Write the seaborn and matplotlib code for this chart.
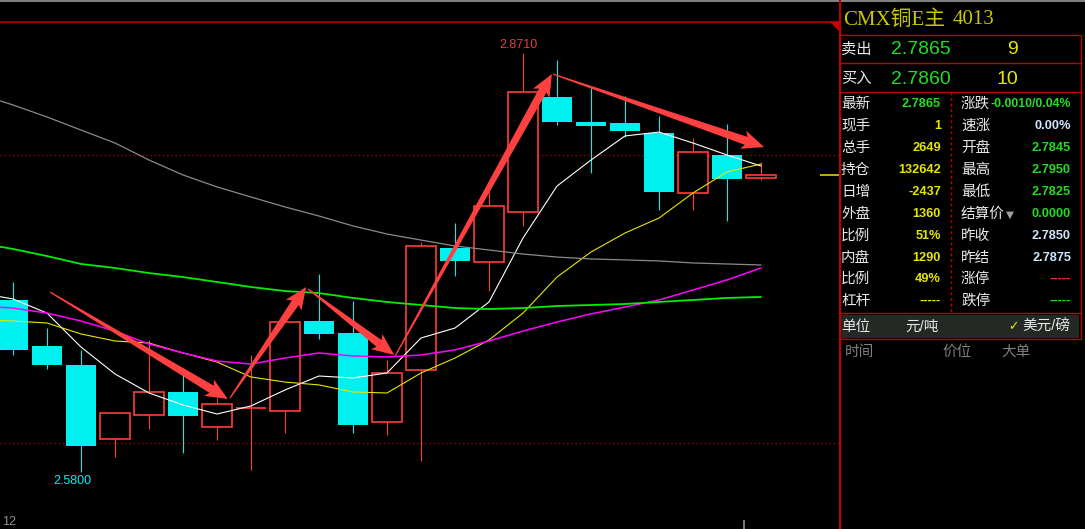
import numpy as np
import pandas as pd
import matplotlib.pyplot as plt
import seaborn as sns
from matplotlib.patches import Polygon, Rectangle
from matplotlib.transforms import IdentityTransform

sns.set_theme(style="dark", rc={"axes.facecolor": "black", "figure.facecolor": "black"})
plt.rcParams['font.family'] = ['Liberation Sans', 'Noto Sans CJK SC', 'DejaVu Sans']

W, H = 1085, 529

# ---- K线数据 (开 高 低 收) ----
opens = [2.6995, 2.6675, 2.6545, 2.6030, 2.6195, 2.6355, 2.6110, 2.6245, 2.6225, 2.6850, 2.6765, 2.6145,
         2.6510, 2.7355, 2.7260, 2.7605, 2.8405, 2.8230, 2.8225, 2.8155, 2.7735, 2.8000, 2.7845]
highs = [2.7120, 2.6800, 2.6645, 2.6215, 2.6715, 2.6520, 2.6315, 2.6610, 2.6840, 2.7175, 2.6990, 2.6580,
         2.7395, 2.7530, 2.7745, 2.8710, 2.8660, 2.8465, 2.8410, 2.8270, 2.8120, 2.8215, 2.7950]
lows = [2.6610, 2.6515, 2.5800, 2.5905, 2.6100, 2.5930, 2.6020, 2.5815, 2.6070, 2.6725, 2.6070, 2.6055,
        2.5875, 2.7160, 2.7055, 2.7510, 2.8210, 2.7875, 2.8125, 2.7620, 2.7620, 2.7545, 2.7825]
closes = [2.6645, 2.6545, 2.5980, 2.6210, 2.6355, 2.6190, 2.6270, 2.6245, 2.6840, 2.6760, 2.6125, 2.6490,
          2.7370, 2.7265, 2.7650, 2.8440, 2.8230, 2.8205, 2.8170, 2.7745, 2.8025, 2.7835, 2.7865]

# ---- 均线 (从前一根K线开始, 索引 -1 .. 22) ----
ma_idx = list(range(-1, 23))
ma5 = [2.7043, 2.7002, 2.6904, 2.6668, 2.6481, 2.6349, 2.6266, 2.6203, 2.6259, 2.6370, 2.6467, 2.6453,
       2.6488, 2.6731, 2.6800, 2.6981, 2.7425, 2.7786, 2.7967, 2.8134, 2.8161, 2.8085, 2.8002, 2.7925]
ma10 = [2.6856, 2.6849, 2.6835, 2.6759, 2.6710, 2.6696, 2.6627, 2.6564, 2.6460, 2.6425, 2.6405, 2.6356,
        2.6349, 2.6488, 2.6592, 2.6717, 2.6904, 2.7154, 2.7328, 2.7460, 2.7564, 2.7738, 2.7884, 2.7939]
ma20 = [2.6953, 2.6939, 2.6904, 2.6849, 2.6779, 2.6689, 2.6627, 2.6571, 2.6550, 2.6592, 2.6627, 2.6606,
        2.6599, 2.6613, 2.6648, 2.6710, 2.6779, 2.6842, 2.6898, 2.6946, 2.6995, 2.7064, 2.7134, 2.7217]
ma40 = [2.7391, 2.7349, 2.7300, 2.7245, 2.7217, 2.7182, 2.7154, 2.7120, 2.7085, 2.7057, 2.7043, 2.7009,
        2.6981, 2.6960, 2.6939, 2.6932, 2.6939, 2.6953, 2.6960, 2.6967, 2.6981, 2.6995, 2.7009, 2.7016]
ma60 = [2.8425, 2.8349, 2.8266, 2.8175, 2.8085, 2.7967, 2.7863, 2.7780, 2.7710, 2.7641, 2.7578, 2.7509,
        2.7453, 2.7411, 2.7370, 2.7342, 2.7314, 2.7293, 2.7280, 2.7273, 2.7266, 2.7252, 2.7245, 2.7238]

# 手绘箭头 (K线序号, 价格)
arrows = [((1.09, 2.7050), (6.32, 2.6307)),
          ((6.38, 2.6314), (8.62, 2.7085)),
          ((8.68, 2.7071), (11.21, 2.6613)),
          ((11.24, 2.6606), (15.85, 2.8564)),
          ((15.88, 2.8564), (22.09, 2.8057))]

grid_prices = [2.80, 2.60]
upper_line = 2.8925
day_split = 21.5

# ---- 右侧盘口 ----
quote_rows = [("最新", "2.7865", "g", "涨跌", "-0.0010/0.04%", "g"),
              ("现手", "1", "y", "速涨", "0.00%", "w"),
              ("总手", "2649", "y", "开盘", "2.7845", "g"),
              ("持仓", "132642", "y", "最高", "2.7950", "g"),
              ("日增", "-2437", "y", "最低", "2.7825", "g"),
              ("外盘", "1360", "y", "结算价", "0.0000", "g"),
              ("比例", "51%", "y", "昨收", "2.7850", "w"),
              ("内盘", "1290", "y", "昨结", "2.7875", "w"),
              ("比例", "49%", "y", "涨停", "-----", "r"),
              ("杠杆", "-----", "y", "跌停", "-----", "g")]
row_y = [104, 126, 148, 170, 192, 214, 236, 258, 279, 301]

RED = '#ff3c3c'
CYAN = '#00f0f0'
C = {"g": '#22dd22', "y": '#e6e600', "w": '#d0e6ff', "r": '#ff3030'}

fig = plt.figure(figsize=(W / 100, H / 100), dpi=100)
ax = fig.add_axes([0, 0, 839 / W, 1])
ax.set_facecolor('black')
ax.set_xlim(-13 / 34, (839 - 13) / 34)
ax.set_ylim(2.90781 - H / 1440, 2.90781)
ax.set_xticks([])
ax.set_yticks([])
for s in ax.spines.values():
    s.set_visible(False)

o, h, l, c = map(np.array, (opens, highs, lows, closes))
idx = np.arange(len(o))
up = c >= o
lo = np.minimum(o, c)
bh = np.abs(c - o)

ax.vlines(idx[up], l[up], h[up], color=RED, lw=0.8, zorder=2)
ax.vlines(idx[~up], l[~up], h[~up], color=CYAN, lw=0.8, zorder=2)
ax.bar(idx[up], bh[up], bottom=lo[up], width=0.88, facecolor='black', edgecolor=RED, linewidth=1.2, zorder=3)
ax.bar(idx[~up], bh[~up], bottom=lo[~up], width=0.91, color=CYAN, linewidth=0, zorder=3)

for gp in grid_prices:
    ax.axhline(gp, color='#9a0000', lw=1, ls=(0, (1, 2)), zorder=1)
ax.axhline(upper_line, color='#c80000', lw=1.1, zorder=1)

ma_df = pd.DataFrame({'idx': ma_idx * 5,
                      'val': ma5 + ma10 + ma20 + ma40 + ma60,
                      'ma': ['MA5'] * 24 + ['MA10'] * 24 + ['MA20'] * 24 + ['MA40'] * 24 + ['MA60'] * 24})
palette = {'MA5': '#ffffff', 'MA10': '#e6e600', 'MA20': '#ff00ff', 'MA40': '#00ee00', 'MA60': '#8a8a8a'}
sizes = {'MA5': 0.8, 'MA10': 0.8, 'MA20': 1.1, 'MA40': 1.3, 'MA60': 0.9}
sns.lineplot(data=ma_df, x='idx', y='val', hue='ma', palette=palette, size='ma', sizes=sizes,
             legend=False, ax=ax, zorder=4)
ax.set_xlabel('')
ax.set_ylabel('')

# 最新价标记
ax.hlines(c[-1], 23.74, 24.4, color='#e6e600', lw=1.1, zorder=4)
ax.vlines(day_split, ax.get_ylim()[0], 2.90781 - 520 / 1440, color='#909090', lw=1.2)

ih = int(np.argmax(h))
il = int(np.argmin(l))
ax.annotate(f"{h[ih]:.4f}", xy=(ih, h[ih]), xytext=(-5, 8), textcoords='offset pixels',
            ha='center', va='center', color='#e04040', fontsize=9)
ax.annotate(f"{l[il]:.4f}", xy=(il, l[il]), xytext=(-9, -9), textcoords='offset pixels',
            ha='center', va='center', color=CYAN, fontsize=9)


def fat_arrow(p0, p1, color='#ff4040'):
    a = ax.transData.transform(p0)
    b = ax.transData.transform(p1)
    d = b - a
    u = d / np.hypot(*d)
    n = np.array([-u[1], u[0]])
    hl, hw, nw, tw = 19, 9.5, 4.2, 0.6
    neck = b - u * hl
    pts = [a + n * tw, neck + n * nw, neck - u * 3 + n * hw, b, neck - u * 3 - n * hw, neck - n * nw, a - n * tw]
    ax.add_patch(Polygon(pts, closed=True, transform=IdentityTransform(), facecolor=color, lw=0, zorder=6))


for p0, p1 in arrows:
    fat_arrow(p0, p1)

# ---- 叠加层 (像素坐标) ----
ov = fig.add_axes([0, 0, 1, 1])
ov.set_xlim(0, W)
ov.set_ylim(H, 0)
ov.axis('off')

ov.hlines(0.8, 0, W, color='#808080', lw=1.5)
ov.add_patch(Polygon([(830, 22), (839, 22), (839, 31)], closed=True, facecolor='#c80000', lw=0))
ov.text(2, 522, "12", color='#909090', fontsize=9, va='center', ha='left')

red = '#c00000'
ov.vlines(839.5, 0, H, color=red, lw=1.5)
for yy in [35, 63, 92, 313, 339]:
    ov.hlines(yy, 839, 1081, color=red, lw=1)
ov.vlines(1080.5, 35, 339, color=red, lw=1)
ov.vlines(951, 92, 313, color=red, lw=1, ls=(0, (2, 2)))
ov.add_patch(Rectangle((841, 315), 238, 23, facecolor='#252925', lw=0))

ov.text(843, 20, "CMX铜E主", color='#c8c800', fontsize=15, va='center', ha='left',
        family=['Liberation Serif', 'Noto Sans CJK SC'])
ov.text(953, 20, "4013", color='#c8c800', fontsize=15, va='center', ha='left',
        family=['Liberation Serif', 'Noto Sans CJK SC'])

ov.text(841, 50, "卖出", color='#e8e8e8', fontsize=11, va='center')
ov.text(891, 50, "2.7865", color=C["g"], fontsize=14, va='center')
ov.text(1018, 50, "9", color=C["y"], fontsize=14, va='center', ha='right')
ov.text(841, 79, "买入", color='#e8e8e8', fontsize=11, va='center')
ov.text(891, 79, "2.7860", color=C["g"], fontsize=14, va='center')
ov.text(1018, 79, "10", color=C["y"], fontsize=14, va='center', ha='right')

for (l1, v1, c1, l2, v2, c2), yy in zip(quote_rows, row_y):
    ov.text(841, yy, l1, color='#e8e8e8', fontsize=10.5, va='center')
    ov.text(941, yy, v1, color=C[c1], fontsize=9.2, fontweight='bold', va='center', ha='right')
    ov.text(961, yy, l2, color='#e8e8e8', fontsize=10.5, va='center')
    ov.text(1071, yy, v2, color=C[c2], fontsize=9.2 if len(v2) < 8 else 8.8,
            fontweight='bold', va='center', ha='right')
ov.text(1010, 215, "▼", color='#a0a0a0', fontsize=7.5, va='center', ha='center', family=['DejaVu Sans'])

ov.text(841, 327, "单位", color='#e8e8e8', fontsize=10.5, va='center')
ov.text(905, 327, "元/吨", color='#e8e8e8', fontsize=10.5, va='center')
ov.text(1008, 327, "✓", color='#e6e600', fontsize=9, va='center', family=['DejaVu Sans'])
ov.text(1022, 327, "美元/磅", color='#e8e8e8', fontsize=10.5, va='center')
for txt, xx in [("时间", 845), ("价位", 942), ("大单", 1001)]:
    ov.text(xx, 352, txt, color='#7f7f7f', fontsize=10.5, va='center')

fig.savefig('out.png', dpi=100, facecolor='black')
